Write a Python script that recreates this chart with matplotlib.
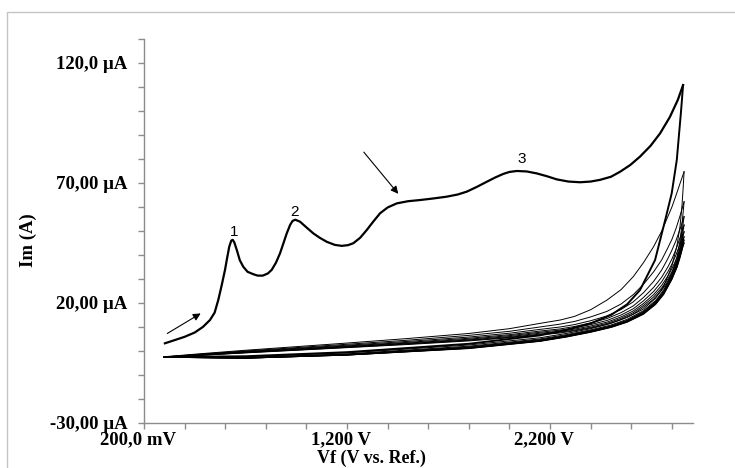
import matplotlib
matplotlib.use('Agg')
import matplotlib.pyplot as plt
from matplotlib.patches import Rectangle
from matplotlib.ticker import MultipleLocator
import matplotlib.transforms as mtransforms

# first scan (thick curve), potential in V, current in uA
scan1_fwd_E = [0.303, 0.35, 0.40, 0.45, 0.49, 0.525, 0.548, 0.566, 0.583, 0.599, 0.610,
               0.620, 0.630, 0.637, 0.645, 0.657, 0.672, 0.689, 0.710, 0.738, 0.760,
               0.785, 0.810, 0.829, 0.850, 0.870, 0.888, 0.903, 0.920, 0.932, 0.945,
               0.968, 1.000, 1.034, 1.065, 1.100, 1.140, 1.174, 1.205, 1.231, 1.265,
               1.297, 1.330, 1.363, 1.40, 1.445, 1.50, 1.560, 1.63, 1.691, 1.745,
               1.790, 1.840, 1.888, 1.930, 1.970, 2.000, 2.036, 2.085, 2.134, 2.185,
               2.233, 2.29, 2.348, 2.40, 2.446, 2.50, 2.545, 2.595, 2.643, 2.695,
               2.742, 2.790, 2.829, 2.855]
scan1_fwd_I = [3.2, 4.5, 5.9, 7.7, 10.0, 12.9, 16.0, 21.3, 27.5, 33.8, 39.0,
               43.5, 46.0, 46.3, 45.2, 42.1, 37.8, 35.1, 33.0, 32.0, 31.4,
               31.4, 32.3, 33.8, 36.8, 40.7, 45.2, 49.0, 52.6, 54.2, 54.7,
               53.9, 51.5, 49.0, 47.2, 45.5, 44.2, 43.8, 44.1, 44.9, 47.2,
               50.4, 54.0, 57.4, 59.8, 61.5, 62.4, 62.9, 63.6, 64.3, 65.2,
               66.4, 68.4, 70.5, 72.3, 73.8, 74.6, 75.0, 74.8, 74.0, 72.8,
               71.5, 70.6, 70.3, 70.6, 71.3, 72.6, 74.7, 77.5, 81.0, 85.5,
               90.7, 97.5, 104.6, 110.8]
scan1_rev_E = [2.855, 2.845, 2.834, 2.824, 2.799, 2.767, 2.717, 2.643, 2.58, 2.50, 2.40,
               2.28, 2.15, 1.80, 1.20, 0.70, 0.30]
scan1_rev_I = [110.8, 100.0, 89.3, 79.6, 65.7, 54.6, 37.9, 25.4, 19.5, 15.0, 11.5,
               8.8, 6.5, 3.0, -0.5, -2.2, -2.5]

# later scans (thin bundle)
bundle_fwd_E = [0.30, 0.50, 0.70, 0.95, 1.20, 1.50, 1.80, 2.00, 2.15, 2.25, 2.32, 2.40,
                2.48, 2.55, 2.61, 2.66, 2.71, 2.75, 2.78, 2.80, 2.82, 2.84, 2.86]
bundle_fwd_I = [
    [-2.4, -1.0, 0.3, 1.8, 3.3, 5.2, 7.3, 9.3, 11.5, 12.9, 14.4, 17.2, 21.2, 25.6, 31.0, 36.8, 43.5, 50.0, 56.0, 60.0, 64.8, 69.8, 74.7],
    [-2.5, -1.2, 0.0, 1.4, 2.8, 4.5, 6.5, 8.2, 10.0, 11.2, 12.3, 14.2, 16.5, 19.6, 23.5, 27.8, 33.0, 38.0, 43.0, 46.5, 51.0, 56.3, 62.2],
    [-2.5, -1.3, -0.2, 1.1, 2.4, 4.0, 5.8, 7.4, 9.0, 10.0, 11.0, 12.6, 14.6, 17.3, 20.5, 24.3, 29.0, 33.8, 38.5, 42.0, 46.0, 50.8, 56.0],
    [-2.6, -1.4, -0.4, 0.9, 2.1, 3.6, 5.3, 6.8, 8.3, 9.2, 10.2, 11.7, 13.5, 16.0, 18.8, 22.3, 26.5, 30.8, 35.0, 38.3, 42.3, 47.2, 52.5],
    [-2.6, -1.5, -0.5, 0.7, 1.9, 3.3, 4.9, 6.4, 7.8, 8.7, 9.6, 11.0, 12.7, 15.0, 17.6, 20.9, 24.8, 28.9, 33.0, 36.2, 40.0, 44.6, 49.7],
    [-2.6, -1.6, -0.6, 0.5, 1.7, 3.1, 4.6, 6.0, 7.4, 8.2, 9.1, 10.4, 12.0, 14.2, 16.7, 19.8, 23.5, 27.4, 31.2, 34.3, 38.0, 42.5, 47.6],
    [-2.7, -1.7, -0.7, 0.4, 1.5, 2.9, 4.4, 5.7, 7.0, 7.8, 8.7, 9.9, 11.5, 13.6, 16.0, 19.0, 22.5, 26.3, 30.0, 33.0, 36.5, 41.0, 46.2],
    [-2.7, -1.7, -0.8, 0.3, 1.4, 2.7, 4.2, 5.5, 6.7, 7.5, 8.4, 9.6, 11.1, 13.1, 15.4, 18.3, 21.6, 25.3, 29.0, 31.9, 35.3, 39.8, 45.0],
]
bundle_rev_E = [2.86, 2.855, 2.85, 2.84, 2.825, 2.80, 2.76, 2.72, 2.66, 2.58, 2.50, 2.40,
                2.28, 2.15, 1.80, 1.20, 0.70, 0.30]
bundle_rev_I = [
    [74.7, 67.5, 61.0, 52.0, 44.0, 35.5, 27.0, 22.0, 17.5, 14.0, 11.5, 9.3, 7.3, 5.5, 2.5, -0.8, -2.4, -2.5],
    [62.2, 57.5, 53.0, 46.0, 39.0, 32.5, 25.5, 21.0, 16.8, 13.2, 10.8, 8.8, 6.8, 5.0, 2.0, -1.2, -2.7, -2.6],
    [56.0, 53.0, 49.5, 43.5, 37.5, 31.5, 25.0, 20.6, 16.4, 12.8, 10.5, 8.5, 6.5, 4.7, 1.7, -1.4, -2.8, -2.6],
    [52.5, 50.0, 47.0, 42.0, 36.5, 31.0, 24.5, 20.3, 16.1, 12.6, 10.3, 8.3, 6.3, 4.5, 1.5, -1.5, -2.9, -2.6],
    [49.7, 47.8, 45.2, 40.8, 36.0, 30.5, 24.2, 20.0, 15.9, 12.4, 10.1, 8.1, 6.1, 4.3, 1.3, -1.6, -3.0, -2.6],
    [47.6, 46.0, 43.8, 40.0, 35.5, 30.3, 24.0, 19.8, 15.7, 12.3, 10.0, 8.0, 6.0, 4.2, 1.2, -1.7, -3.0, -2.6],
    [46.2, 44.8, 42.8, 39.3, 35.0, 30.0, 23.8, 19.6, 15.5, 12.1, 9.9, 7.9, 5.9, 4.1, 1.1, -1.7, -3.0, -2.6],
    [45.0, 43.8, 42.0, 38.8, 34.8, 29.8, 23.6, 19.4, 15.3, 12.0, 9.8, 7.8, 5.8, 4.0, 1.0, -1.7, -3.0, -2.6],
]

ytick_vals = [-30, 20, 70, 120]
ytick_labels = ['-30,00 µA', '20,00 µA', '70,00 µA', '120,0 µA']
xtick_vals = [0.2, 1.2, 2.2]
xtick_labels = ['200,0 mV', '1,200 V', '2,200 V']

peak_labels = ['1', '2', '3']
peak_pos = [(0.643, 49.7), (0.939, 58.0), (2.06, 79.9)]

serif = {'family': 'Liberation Serif', 'weight': 'bold'}

fig = plt.figure(figsize=(7.35, 4.68), dpi=100)
ax = fig.add_axes([0.1959, 0.0962, 0.747, 0.8205])

# light frame around the figure (only left and top edges fall inside the image)
fig.patches.append(Rectangle((7 / 735, -0.05), 1.2, 1.05 - 12 / 468, transform=fig.transFigure,
                             fill=False, ec='#c4c4c4', lw=1.0))

for fI, rI in zip(bundle_fwd_I, bundle_rev_I):
    ax.plot(bundle_fwd_E, fI, color='black', lw=0.7)
    ax.plot(bundle_rev_E, rI, color='black', lw=0.7)

ax.plot(scan1_fwd_E, scan1_fwd_I, color='black', lw=1.6, solid_joinstyle='round')
ax.plot(scan1_rev_E, scan1_rev_I, color='black', lw=1.4, solid_joinstyle='round')

for lab, (x, y) in zip(peak_labels, peak_pos):
    ax.text(x, y, lab, family='Liberation Sans', fontsize=11, ha='center', va='center')

ax.annotate('', xy=(0.491, 16.25), xytext=(0.303, 6.7),
            arrowprops=dict(arrowstyle='-|>', color='black', lw=0.8, mutation_scale=11))
ax.annotate('', xy=(1.461, 64.6), xytext=(1.274, 83.75),
            arrowprops=dict(arrowstyle='-|>', color='black', lw=0.8, mutation_scale=11))

ax.set_xlim(0.2, 2.904)
ax.set_ylim(-30, 130)

ax.spines['top'].set_visible(False)
ax.spines['right'].set_visible(False)
for s in ['left', 'bottom']:
    ax.spines[s].set_color('#8c8c8c')
    ax.spines[s].set_linewidth(1.0)

ax.set_yticks(ytick_vals, labels=ytick_labels)
ax.set_xticks(xtick_vals, labels=xtick_labels)
ax.yaxis.set_minor_locator(MultipleLocator(10))
ax.xaxis.set_minor_locator(MultipleLocator(0.2))
ax.tick_params(which='both', direction='out', length=4, width=1, color='#8c8c8c')
ax.tick_params(axis='y', pad=8)
ax.tick_params(axis='x', pad=2)
for lab in ax.get_yticklabels() + ax.get_xticklabels():
    lab.set_fontproperties(serif)
    lab.set_fontsize(13.5)
shift = mtransforms.ScaledTranslation(-6 / 100, 0, fig.dpi_scale_trans)
for lab in ax.get_xticklabels():
    lab.set_transform(lab.get_transform() + shift)

ax.set_xlabel('Vf (V vs. Ref.)', fontdict=serif, fontsize=13)
ax.set_ylabel('Im (A)', fontdict=serif, fontsize=13.5)
ax.xaxis.set_label_coords(0.415, -0.07)
ax.yaxis.set_label_coords(-0.195, 0.477)

fig.savefig('out.png', dpi=100)
